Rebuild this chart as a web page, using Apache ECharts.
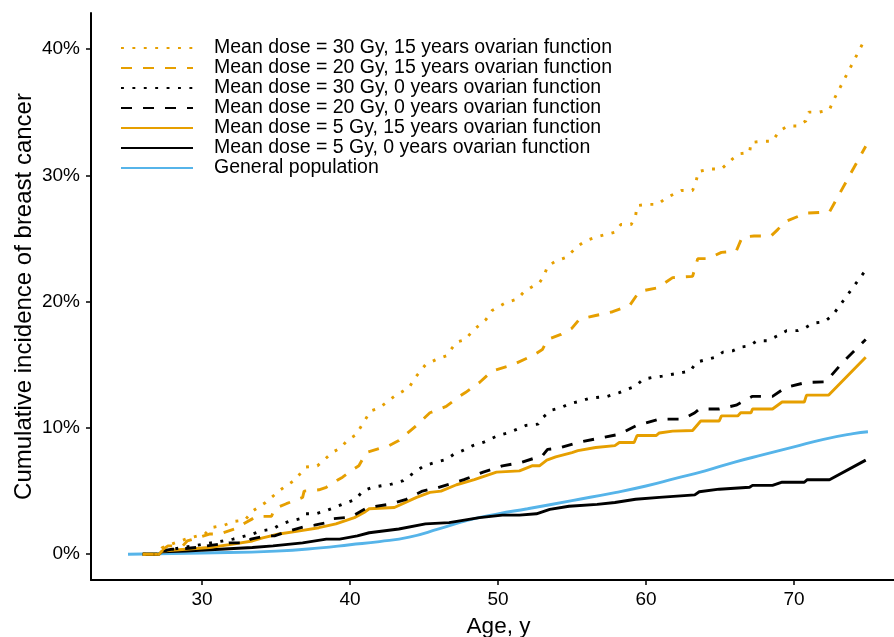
<!DOCTYPE html>
<html>
<head>
<meta charset="utf-8">
<script src="https://cdn.jsdelivr.net/npm/echarts@6/dist/echarts.min.js"></script>
<style>
  html, body { margin: 0; padding: 0; background: #fff; }
  #chart { width: 894px; height: 637px; }
</style>
</head>
<body>
<div id="chart"></div>
<script>
"use strict";

// cumulative incidence (%) by age
var dose30Ovary15 = [[26,0],[27.1,0],[27.3,0.5],[27.6,0.66],[28.3,0.95],[28.9,1.2],[30.2,1.6],[30.6,2.1],[31.5,2.3],[32.2,2.6],[32.9,2.7],[33.4,3.4],[34.3,4.1],[35.3,5.1],[36.3,5.9],[37.0,6.9],[37.8,7.0],[38.8,8.05],[39.4,8.45],[39.8,9.0],[40.4,9.45],[41.4,11.35],[42.0,11.6],[43.0,12.5],[44.0,13.2],[44.35,13.9],[45.1,15.0],[45.8,15.4],[46.5,15.7],[47.2,16.8],[47.8,17.0],[48.3,17.7],[49.2,18.6],[49.6,19.3],[50.5,19.9],[51.3,20.2],[51.7,20.7],[52.2,21.1],[52.8,21.5],[53.1,22.0],[53.35,22.8],[53.9,23.2],[54.6,23.5],[55.4,24.4],[55.9,24.8],[56.6,25.1],[57.9,25.5],[58.3,26.1],[59.0,26.1],[59.3,26.8],[59.4,27.6],[60.1,27.7],[60.8,27.7],[61.35,28.2],[62.4,28.8],[63.15,28.8],[63.4,29.6],[63.55,30.3],[64.3,30.5],[65.1,30.5],[65.85,31.3],[66.3,31.7],[67.0,31.8],[67.1,32.6],[67.9,32.7],[68.55,32.7],[69.0,33.5],[69.6,33.9],[70.25,33.9],[70.8,34.3],[71.0,35.0],[71.7,35.0],[72.4,35.2],[72.7,36.0],[74.85,40.9]];

var dose20Ovary15 = [[26,0],[27.1,0],[27.2,0.26],[27.7,0.66],[28.7,0.66],[29.0,1.05],[30.5,1.6],[31.2,1.6],[32.2,2.0],[32.5,2.2],[33.4,2.8],[33.65,3.0],[34.7,3.0],[34.9,3.6],[35.7,4.0],[36.8,4.5],[36.9,5.0],[37.9,5.1],[38.4,5.3],[39.2,5.9],[39.5,6.1],[40.2,6.7],[40.6,7.0],[41.1,8.05],[42.65,8.6],[43.3,9.0],[44.5,10.2],[45.4,11.2],[46.5,11.7],[47.4,12.5],[47.8,12.8],[48.75,13.6],[49.6,14.5],[51.0,15.0],[52.3,15.7],[53.0,16.2],[53.35,17.0],[54.25,17.4],[55.0,17.9],[55.5,18.6],[56.6,18.9],[57.75,19.2],[58.9,19.7],[59.55,20.8],[60.8,21.1],[61.8,21.9],[63.15,22.0],[63.5,23.4],[64.2,23.4],[65.1,23.9],[66.1,24.0],[66.5,25.1],[67.3,25.2],[68.45,25.2],[68.9,25.7],[69.35,26.3],[70.8,27.0],[72.4,27.1],[74.85,32.3]];

var dose30Ovary0 = [[26,0],[27.1,0],[27.3,0.26],[28.0,0.4],[29.4,0.66],[30.6,0.9],[31.4,1.05],[32.1,1.2],[32.7,1.37],[33.4,1.6],[34.0,1.85],[34.8,2.0],[35.2,2.3],[35.9,2.6],[36.6,2.8],[37.0,3.2],[37.7,3.2],[38.5,3.5],[39.05,3.75],[39.7,4.05],[40.4,4.35],[40.85,5.0],[41.5,5.3],[42.8,5.55],[43.55,5.8],[44.5,6.6],[45.0,7.0],[45.7,7.25],[46.5,7.5],[47.0,7.9],[47.6,8.2],[48.3,8.6],[49.0,8.85],[50.0,9.4],[50.65,9.6],[51.3,9.9],[51.9,10.2],[52.7,10.3],[53.0,10.8],[53.6,11.4],[54.25,11.6],[54.8,11.9],[55.5,12.1],[56.2,12.35],[57.4,12.5],[58.2,12.8],[58.8,13.1],[59.3,13.3],[59.8,13.85],[60.45,14.0],[61.1,14.1],[61.8,14.25],[62.5,14.4],[63.0,14.5],[63.4,15.2],[64.05,15.4],[64.7,15.6],[65.2,16.0],[65.85,16.1],[66.4,16.4],[67.0,16.5],[67.5,16.9],[68.2,16.9],[68.9,17.3],[69.5,17.7],[70.25,17.7],[70.8,17.95],[71.3,18.3],[72.05,18.4],[72.6,18.9],[74.85,22.5]];

var dose20Ovary0 = [[26,0],[27.1,0],[27.3,0.26],[28.0,0.4],[28.9,0.45],[29.6,0.53],[30.3,0.66],[31.2,0.8],[31.85,0.9],[33.0,0.9],[33.3,1.2],[34.3,1.45],[34.9,1.45],[35.9,1.85],[37.0,2.2],[37.6,2.3],[38.4,2.5],[38.7,2.8],[39.7,2.9],[40.2,3.05],[41.2,3.7],[42.65,3.95],[43.8,4.35],[44.9,5.0],[46.0,5.3],[46.7,5.55],[47.7,5.9],[49.0,6.5],[50.3,7.0],[51.5,7.25],[53.0,7.8],[53.35,8.3],[54.1,8.4],[55.4,8.85],[56.7,9.15],[58.2,9.5],[59.3,10.15],[60.9,10.7],[62.5,10.7],[63.3,11.2],[63.6,11.5],[64.95,11.5],[66.1,11.8],[67.2,12.5],[68.55,12.5],[69.45,13.2],[70.8,13.6],[72.15,13.65],[73.3,15.2],[74.85,17.0]];

var dose5Ovary15 = [[26,0],[27.1,0],[27.3,0.26],[28.9,0.4],[30.5,0.53],[32.1,0.8],[33.4,1.05],[34.1,1.3],[35.2,1.6],[36.6,1.85],[37.9,2.1],[39.05,2.4],[39.3,2.5],[40.3,2.9],[40.95,3.3],[41.3,3.6],[43.0,3.7],[44.5,4.5],[45.4,4.9],[46.15,5.0],[47.2,5.5],[48.4,5.9],[49.9,6.5],[51.45,6.6],[52.3,7.0],[52.8,7.0],[53.3,7.45],[53.9,7.7],[55.0,8.05],[55.4,8.2],[56.6,8.45],[57.9,8.6],[58.2,8.85],[59.2,8.85],[59.4,9.4],[60.7,9.4],[60.9,9.6],[61.8,9.75],[63.15,9.8],[63.7,10.55],[64.95,10.55],[65.1,10.95],[66.2,10.95],[66.4,11.2],[67.1,11.2],[67.2,11.5],[68.55,11.5],[69.2,12.05],[70.7,12.05],[70.85,12.6],[72.35,12.6],[74.85,15.6]];

var dose5Ovary0 = [[26,0],[27.1,0],[27.3,0.2],[28.9,0.26],[31.2,0.4],[33.4,0.53],[34.8,0.66],[36.8,0.9],[38.4,1.2],[39.3,1.2],[40.5,1.45],[41.3,1.7],[43.3,2.0],[45.1,2.4],[46.7,2.5],[48.75,2.9],[50.3,3.1],[51.45,3.1],[52.6,3.2],[53.5,3.55],[54.8,3.8],[56.7,3.95],[57.9,4.1],[59.3,4.35],[60.9,4.5],[63.3,4.7],[63.6,4.95],[64.95,5.15],[67.0,5.3],[67.2,5.45],[68.55,5.45],[69.2,5.7],[70.7,5.7],[70.9,5.9],[72.4,5.9],[74.85,7.45]];

var generalPopulation = [[25,0],[30,0.1],[35,0.25],[38,0.5],[40,0.75],[42,1.0],[44,1.35],[46,2.0],[48,2.7],[50,3.2],[52,3.6],[55,4.25],[58,4.9],[60,5.4],[62,6.0],[64,6.6],[66,7.3],[68,7.9],[70,8.5],[72,9.1],[74,9.55],[75,9.7]];

var ageTicks = [30, 40, 50, 60, 70];
var pctTicks = [0, 10, 20, 30, 40];

var seriesNames = [
  'Mean dose = 30 Gy, 15 years ovarian function',
  'Mean dose = 20 Gy, 15 years ovarian function',
  'Mean dose = 30 Gy, 0 years ovarian function',
  'Mean dose = 20 Gy, 0 years ovarian function',
  'Mean dose = 5 Gy, 15 years ovarian function',
  'Mean dose = 5 Gy, 0 years ovarian function',
  'General population'
];
var seriesData = [dose30Ovary15, dose20Ovary15, dose30Ovary0, dose20Ovary0, dose5Ovary15, dose5Ovary0, generalPopulation];

var orange = '#E69F00';
var blue = '#56B4E9';
var dotted = [2.9, 8.5];
var dashed = [11, 11];
var seriesColors = [orange, orange, '#000', '#000', orange, '#000', blue];
var seriesDash = [dotted, dashed, dotted, dashed, 'solid', 'solid', 'solid'];

var font = "'Liberation Sans', Arial, Helvetica, sans-serif";

var series = [];
for (var i = 0; i < seriesNames.length; i++) {
  series.push({
    name: seriesNames[i],
    type: 'line',
    data: seriesData[i],
    symbol: 'none',
    smooth: i === 6,
    animation: false,
    z: 10 - i,
    lineStyle: { color: seriesColors[i], width: 2.9, type: seriesDash[i], cap: 'butt' },
    itemStyle: { color: seriesColors[i] }
  });
}

var chart = echarts.init(document.getElementById('chart'));
chart.setOption({
  animation: false,
  grid: { left: 91, right: 0, top: 13, bottom: 57, containLabel: false, outerBoundsMode: 'none' },
  legend: {
    orient: 'vertical',
    left: 120,
    top: 38,
    padding: 0,
    itemWidth: 72,
    itemHeight: 14,
    itemGap: 0,
    itemStyle: { opacity: 0 },
    textStyle: { fontFamily: font, fontSize: 19.5, color: '#000', lineHeight: 19, padding: [0, 0, 0, 16] },
    data: seriesNames
  },
  xAxis: {
    type: 'value',
    min: 22.5,
    max: 76.76,
    name: 'Age, y',
    nameLocation: 'middle',
    nameGap: 35,
    nameMoveOverlap: false,
    nameTextStyle: { fontFamily: font, fontSize: 22.5, color: '#000', padding: [0, 0, 0, 12] },
    splitLine: { show: false },
    axisLine: { onZero: false, lineStyle: { color: '#000', width: 2 } },
    axisTick: { length: 5, lineStyle: { color: '#000', width: 1.5 }, customValues: ageTicks },
    axisLabel: { fontFamily: font, fontSize: 19, color: '#000', margin: 10, customValues: ageTicks }
  },
  yAxis: {
    type: 'value',
    min: -2.04,
    max: 42.85,
    name: 'Cumulative incidence of breast cancer',
    nameLocation: 'middle',
    nameGap: 55,
    nameMoveOverlap: false,
    nameTextStyle: { fontFamily: font, fontSize: 24, color: '#000' },
    splitLine: { show: false },
    axisLine: { show: true, onZero: false, lineStyle: { color: '#000', width: 2 } },
    axisTick: { show: true, length: 5, lineStyle: { color: '#000', width: 1.5 }, customValues: pctTicks },
    axisLabel: {
      fontFamily: font, fontSize: 19, color: '#000', margin: 11, customValues: pctTicks,
      formatter: function(v) { return v + '%'; }
    }
  },
  series: series
});
</script>
</body>
</html>
